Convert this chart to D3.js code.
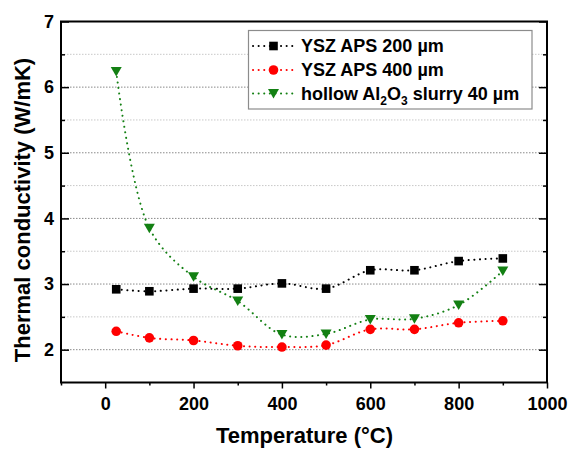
<!DOCTYPE html>
<html>
<head>
<meta charset="utf-8">
<script src="https://cdn.jsdelivr.net/npm/d3@7"></script>
<style>
  html, body { margin: 0; padding: 0; background: #fff; }
  svg { display: block; font-family: Arial, "Liberation Sans", sans-serif; }
</style>
</head>
<body>
<svg id="chart" width="571" height="450"></svg>
<script>
// Measured temperatures (°C)
const temperatures = [25, 100, 200, 300, 400, 500, 600, 700, 800, 900];

// Thermal conductivity (W/mK) per coating
const ysz200 = [2.92, 2.89, 2.93, 2.93, 3.01, 2.93, 3.21, 3.21, 3.35, 3.39];
const ysz400 = [2.28, 2.18, 2.14, 2.06, 2.04, 2.07, 2.31, 2.31, 2.41, 2.44];
const hollowAl2O3 = [6.24, 3.85, 3.11, 2.74, 2.23, 2.24, 2.46, 2.47, 2.68, 3.20];

const seriesNames = ["YSZ APS 200 µm", "YSZ APS 400 µm", "hollow Al2O3 slurry 40 µm"];

const xTicks = [0, 200, 400, 600, 800, 1000];
const yTicks = [2, 3, 4, 5, 6, 7];

const series = [
  { name: seriesNames[0], values: ysz200, color: "#000000", symbol: "square" },
  { name: seriesNames[1], values: ysz400, color: "#ff0000", symbol: "circle" },
  { name: seriesNames[2], values: hollowAl2O3, color: "#138013", symbol: "triangle" }
];

const svg = d3.select("#chart");
const m = { left: 61, right: 547, top: 21.5, bottom: 382.5 };

const x = d3.scaleLinear().domain([-100, 1000]).range([m.left, m.right]);
const y = d3.scaleLinear().domain([1.5, 7]).range([m.bottom, m.top]);

// Horizontal grid every 0.5
const gridVals = d3.range(2, 7.01, 0.5);
svg.append("g").selectAll("line").data(gridVals).join("line")
  .attr("x1", m.left).attr("x2", m.right)
  .attr("y1", d => y(d)).attr("y2", d => y(d))
  .attr("stroke", d => Number.isInteger(d) ? "#8a8a8a" : "#c8c8c8")
  .attr("stroke-width", 1)
  .attr("stroke-dasharray", "1.5,1.5");

// Bottom axis: outward ticks, majors labelled, minors between
const xAxis = d3.axisBottom(x).tickValues(xTicks).tickSize(6).tickFormat(d3.format("d"));
const gx = svg.append("g").attr("transform", `translate(0,${m.bottom})`).call(xAxis);
gx.select(".domain").remove();
gx.selectAll(".tick line").attr("stroke-width", 1.5);
gx.selectAll(".tick text").attr("font-size", 18).attr("font-weight", "bold")
  .attr("font-family", "Arial, 'Liberation Sans', sans-serif").attr("dy", "0").attr("y", 27);
const gxMinor = svg.append("g").attr("transform", `translate(0,${m.bottom})`)
  .call(d3.axisBottom(x).tickValues([-100, 100, 300, 500, 700, 900]).tickSize(3).tickFormat(""));
gxMinor.select(".domain").remove();
gxMinor.selectAll(".tick line").attr("stroke-width", 1.5);

// Left axis: inward ticks
const gy = svg.append("g").attr("transform", `translate(${m.left},0)`)
  .call(d3.axisLeft(y).tickValues(yTicks).tickSize(-8).tickPadding(7).tickFormat(d3.format("d")));
gy.select(".domain").remove();
gy.selectAll(".tick line").attr("stroke-width", 1.5);
gy.selectAll(".tick text").attr("font-size", 18).attr("font-weight", "bold")
  .attr("font-family", "Arial, 'Liberation Sans', sans-serif").attr("x", -7);
const gyMinor = svg.append("g").attr("transform", `translate(${m.left},0)`)
  .call(d3.axisLeft(y).tickValues([2.5, 3.5, 4.5, 5.5, 6.5]).tickSize(-4).tickFormat(""));
gyMinor.select(".domain").remove();
gyMinor.selectAll(".tick line").attr("stroke-width", 1.5);

// Right axis: mirrored inward ticks
const gr = svg.append("g").attr("transform", `translate(${m.right},0)`)
  .call(d3.axisRight(y).tickValues(yTicks).tickSize(-8).tickFormat(""));
gr.select(".domain").remove();
gr.selectAll(".tick line").attr("stroke-width", 1.5);
const grMinor = svg.append("g").attr("transform", `translate(${m.right},0)`)
  .call(d3.axisRight(y).tickValues([2.5, 3.5, 4.5, 5.5, 6.5]).tickSize(-4).tickFormat(""));
grMinor.select(".domain").remove();
grMinor.selectAll(".tick line").attr("stroke-width", 1.5);

// Frame
svg.append("rect")
  .attr("x", m.left).attr("y", m.top)
  .attr("width", m.right - m.left).attr("height", m.bottom - m.top)
  .attr("fill", "none").attr("stroke", "#000").attr("stroke-width", 2);

// Connecting lines (smooth, dotted)
const line = d3.line()
  .x((d, i) => x(temperatures[i]))
  .y(d => y(d))
  .curve(d3.curveCatmullRom.alpha(0.5));

const dotPattern = "0.1,5.5";

series.forEach(s => {
  svg.append("path")
    .attr("d", line(s.values))
    .attr("fill", "none")
    .attr("stroke", s.color)
    .attr("stroke-width", 2)
    .attr("stroke-linecap", "round")
    .attr("stroke-dasharray", dotPattern);
});

// Markers
function drawMarker(g, sym, color, cx, cy) {
  if (sym === "square") {
    g.append("rect").attr("x", cx - 4.3).attr("y", cy - 4.3)
      .attr("width", 8.6).attr("height", 8.6).attr("fill", color);
  } else if (sym === "circle") {
    g.append("circle").attr("cx", cx).attr("cy", cy).attr("r", 4.8).attr("fill", color);
  } else {
    g.append("path")
      .attr("d", `M${cx - 5.5},${cy - 4.5}L${cx + 5.5},${cy - 4.5}L${cx},${cy + 5}Z`)
      .attr("fill", color);
  }
}

series.forEach(s => {
  const g = svg.append("g");
  s.values.forEach((v, i) => drawMarker(g, s.symbol, s.color, x(temperatures[i]), y(v)));
});

// Legend
const lg = svg.append("g");
lg.append("rect").attr("x", 248.5).attr("y", 30.5).attr("width", 283.5).attr("height", 78.5)
  .attr("fill", "#fff").attr("stroke", "#8c8c8c").attr("stroke-width", 1.2);
const rowY = [46, 70, 93.5];
series.forEach((s, i) => {
  const yy = rowY[i];
  lg.append("line").attr("x1", 253).attr("x2", 295).attr("y1", yy).attr("y2", yy)
    .attr("stroke", s.color).attr("stroke-width", 2).attr("stroke-linecap", "round")
    .attr("stroke-dasharray", dotPattern);
  drawMarker(lg, s.symbol, s.color, 273.5, yy);
  const t = lg.append("text").attr("x", 301).attr("y", yy + 6)
    .attr("font-size", 18).attr("font-weight", "bold").attr("fill", "#000");
  if (s.symbol === "triangle") {
    t.append("tspan").text("hollow Al");
    t.append("tspan").attr("font-size", 12).attr("dy", 5).text("2");
    t.append("tspan").attr("dy", -5).text("O");
    t.append("tspan").attr("font-size", 12).attr("dy", 5).text("3");
    t.append("tspan").attr("dy", -5).text(" slurry 40 µm");
  } else {
    t.text(s.name);
  }
});

// Axis titles
svg.append("text").attr("x", 304.5).attr("y", 443)
  .attr("text-anchor", "middle").attr("font-size", 22).attr("font-weight", "bold")
  .text("Temperature (°C)");
svg.append("text")
  .attr("transform", "translate(30,210) rotate(-90)")
  .attr("text-anchor", "middle").attr("font-size", 22).attr("font-weight", "bold")
  .text("Thermal conductivity (W/mK)");
</script>
</body>
</html>
